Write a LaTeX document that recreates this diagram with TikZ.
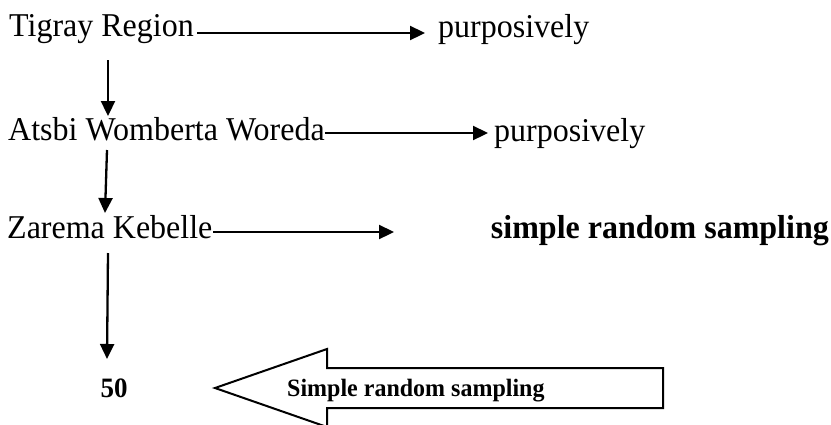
\documentclass[tikz,border=0pt]{standalone}
\usepackage{fontspec}
\setmainfont{Liberation Serif}
\usetikzlibrary{arrows.meta}
\newcommand{\vstr}[1]{\scalebox{1}[1.04]{#1}}
\begin{document}
\begin{tikzpicture}[x=1pt,y=-1pt,
  lbl/.style={inner sep=0pt,anchor=base west,font=\fontsize{32}{36}\selectfont},
  blbl/.style={inner sep=0pt,font=\fontsize{24}{28}\selectfont\bfseries},
  arr/.style={line width=2.3pt,-{Triangle[length=15pt,width=14pt]}},
  bigarrow/.style={line width=2pt,line join=miter}]
\useasboundingbox (0,0) rectangle (831,424);
% text nodes
\node[lbl] (tig) at (9,36) {\vstr{Tigray Region}};
\node[lbl] (p1) at (438,37) {\vstr{purposively}};
\node[lbl] (ats) at (8,140) {\vstr{Atsbi Womberta Woreda}};
\node[lbl] (p2) at (494,141) {\vstr{purposively}};
\node[lbl] (zar) at (7,238) {\vstr{Zarema Kebelle}};
\node[lbl,font=\fontsize{32}{36}\selectfont\bfseries,anchor=base east] (srs) at (829,238) {\vstr{simple random sampling}};
\node[blbl,font=\fontsize{27}{30}\selectfont\bfseries,anchor=base] (fifty) at (114,397) {\vstr{50}};
% free ends
\coordinate (a1s) at (197,33);
\coordinate (a1e) at (425,33);
\coordinate (a2s) at (ats.east |- 0,133);
\coordinate (a2e) at (488,133);
\coordinate (a3s) at (213,232);
\coordinate (a3e) at (394,232);
\coordinate (v1s) at (108,60);
\coordinate (v1e) at (108,116);
\coordinate (v2s) at (107,150);
\coordinate (v2e) at (105,213);
\coordinate (v3s) at (108,253);
\coordinate (v3e) at (107,359);
% connectors
\draw[arr] (a1s) -- (a1e);
\draw[arr] (a2s) -- (a2e);
\draw[arr] (a3s) -- (a3e);
\draw[arr] (v1s) -- (v1e);
\draw[arr] (v2s) -- (v2e);
\draw[arr] (v3s) -- (v3e);
% big block arrow
\draw[bigarrow] (215,388) -- (327,349) -- (327,368) -- (663,368) -- (663,408) -- (327,408) -- (327,427) -- cycle;
\node[blbl,anchor=base west] (sr) at (287,396) {\vstr{Simple random sampling}};
\end{tikzpicture}
\end{document}
